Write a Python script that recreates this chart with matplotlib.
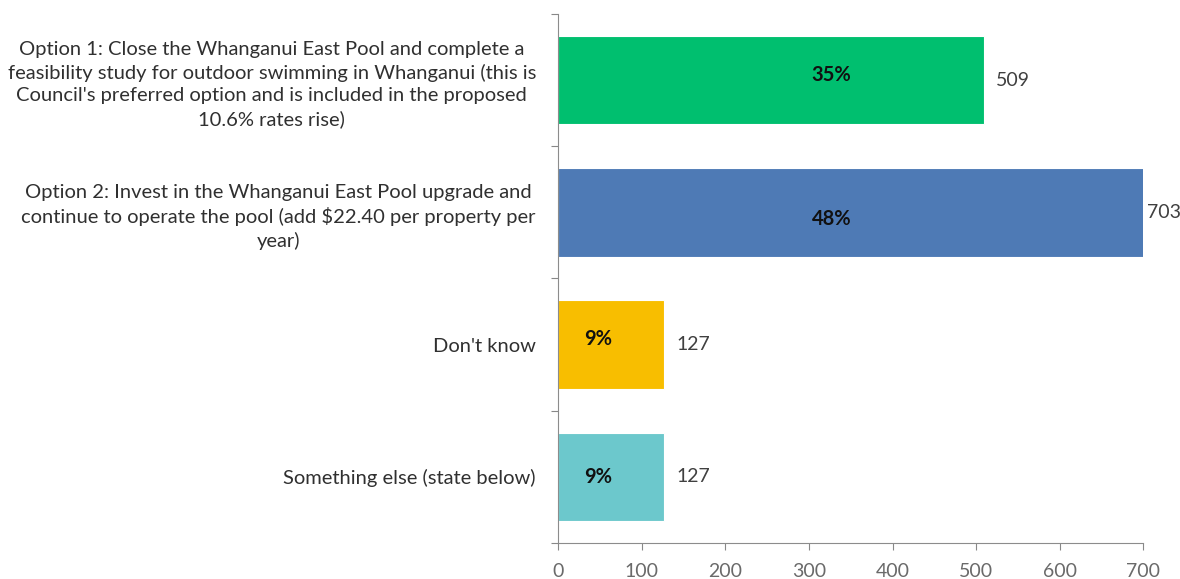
import numpy as np
import matplotlib.pyplot as plt

plt.rcParams['font.family'] = ['Lato', 'DejaVu Sans']

categories = [
    "Option 1: Close the Whanganui East Pool and complete a\n"
    "feasibility study for outdoor swimming in Whanganui (this is\n"
    "Council's preferred option and is included in the proposed\n"
    "10.6% rates rise)",
    "Option 2: Invest in the Whanganui East Pool upgrade and\n"
    "continue to operate the pool (add $22.40 per property per\n"
    "year)",
    "Don't know",
    "Something else (state below)",
]
counts = [509, 703, 127, 127]
shares = ["35%", "48%", "9%", "9%"]
colors = ['#00BF6F', '#4E7AB5', '#F8BE00', '#6CC8CC']

# where the bold share labels sit along each bar (data units)
share_x = [327, 327, 48, 48]
share_dy = [-0.04, 0.05, -0.04, 0.0]

fig = plt.figure(figsize=(11.8, 5.79), dpi=100)
ax = fig.add_axes([0.473, 0.062, 0.496, 0.914])

y = np.arange(len(categories))
ax.barh(y, counts, height=0.67, color=colors, edgecolor='white', linewidth=0.8)
ax.set_ylim(len(categories) - 0.5, -0.5)
ax.set_xlim(0, 700)

for i, c in enumerate(counts):
    off = 0 if c > 650 else 8
    ax.annotate(str(c), (c, i), xytext=(off + 1, 0), textcoords='offset points',
                va='center', ha='left', fontsize=14, color='#404040',
                annotation_clip=False)
    ax.text(share_x[i], i + share_dy[i], shares[i], ha='center', va='center',
            fontsize=14.5, fontweight='bold', color='#111111')

# category boundaries carry the tick marks, labels sit at bar centres
ax.set_yticks(np.arange(len(categories) + 1) - 0.5)
ax.set_yticklabels([])
ax.set_yticks(y, minor=True)
ax.set_yticklabels(categories, minor=True, fontsize=14.5, color='#303030',
                   multialignment='center', linespacing=1.38)
ax.tick_params(axis='y', which='minor', length=0, pad=16)
ax.tick_params(axis='y', which='major', length=5, color='#888888')

ax.set_xticks(np.arange(0, 701, 100))
ax.tick_params(axis='x', length=5, color='#888888', labelcolor='#6a6a6a',
               labelsize=14, pad=9)

for s in ['top', 'right']:
    ax.spines[s].set_visible(False)
for s in ['left', 'bottom']:
    ax.spines[s].set_color('#8c8c8c')

fig.savefig('out.png', dpi=100)
